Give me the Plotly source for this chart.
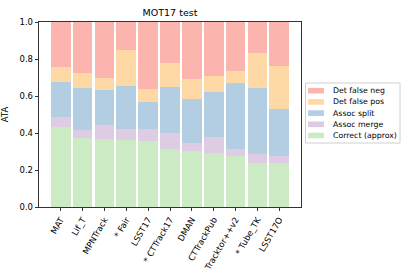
import plotly.graph_objects as go

trackers = ["MAT", "Lif_T", "MPNTrack", "* Fair", "LSST17", "* CTTrack17",
            "DMAN", "CTTrackPub", "Tracktor++v2", "* Tube_TK", "LSST17O"]
correct = [0.433, 0.373, 0.368, 0.362, 0.357, 0.315, 0.303, 0.290, 0.275, 0.237, 0.237]
assoc_merge = [0.056, 0.042, 0.074, 0.058, 0.063, 0.084, 0.043, 0.089, 0.037, 0.049, 0.040]
assoc_split = [0.189, 0.230, 0.192, 0.232, 0.145, 0.251, 0.239, 0.241, 0.356, 0.355, 0.254]
det_fp = [0.081, 0.078, 0.065, 0.194, 0.073, 0.131, 0.109, 0.090, 0.068, 0.189, 0.233]
det_fn = [0.241, 0.277, 0.301, 0.154, 0.362, 0.219, 0.306, 0.290, 0.264, 0.170, 0.236]
yticks = [0.0, 0.2, 0.4, 0.6, 0.8, 1.0]

series = [
    ("Correct (approx)", correct, "#ccebc5"),
    ("Assoc merge", assoc_merge, "#decbe4"),
    ("Assoc split", assoc_split, "#b3cde3"),
    ("Det false pos", det_fp, "#fed9a6"),
    ("Det false neg", det_fn, "#fbb4ae"),
]

W, H = 409, 273
L, R, T, B = 39, 301, 22, 207


def px(xp):
    return (xp - L) / (R - L)


def py(yp):
    return (B - yp) / (B - T)


x = list(range(len(trackers)))
fig = go.Figure()
for name, vals, col in series:
    fig.add_trace(go.Bar(x=x, y=vals, name=name, showlegend=False,
                         marker=dict(color=col, line=dict(width=0))))

font = "DejaVu Sans, sans-serif"

# legend drawn manually (matplotlib-style compact legend)
shapes = [dict(type="rect", xref="paper", yref="paper",
               x0=px(305.5), x1=px(400), y0=py(143), y1=py(83),
               line=dict(color="#d0d0d0", width=1), fillcolor="white", layer="above")]
annotations = []
for i, (name, vals, col) in enumerate(reversed(series)):
    yc = 90.7 + 11.2 * i
    shapes.append(dict(type="rect", xref="paper", yref="paper",
                       x0=px(308), x1=px(324), y0=py(yc + 2.8), y1=py(yc - 2.8),
                       line=dict(width=0), fillcolor=col, layer="above"))
    annotations.append(dict(text=name, xref="paper", yref="paper", x=px(330.5), y=py(yc),
                            xanchor="left", yanchor="middle", showarrow=False,
                            font=dict(size=7.8, family=font, color="black")))

fig.update_layout(
    barmode="stack",
    bargap=0.1,
    width=W, height=H,
    margin=dict(l=L, r=W - R, t=T, b=H - B),
    paper_bgcolor="white", plot_bgcolor="white",
    font=dict(family=font, size=8.5, color="black"),
    title=dict(text="MOT17 test", x=(L + R) / 2 / W, xanchor="center", y=1 - 13 / H,
               yanchor="middle", font=dict(size=9.5, family=font, color="black")),
    showlegend=False,
    shapes=shapes,
    annotations=annotations,
)
fig.update_xaxes(range=[-0.995, 10.995], tickmode="array", tickvals=x, ticktext=trackers,
                 tickangle=-60, ticks="outside", ticklen=3.5, tickwidth=0.8, tickcolor="black",
                 showline=True, linecolor="black", linewidth=0.8, mirror=True, automargin=False,
                 showgrid=False, zeroline=False, tickfont=dict(size=8.5))
fig.update_yaxes(range=[0, 1], tickmode="array", tickvals=yticks,
                 ticktext=[f"{v:.1f}" for v in yticks],
                 ticks="outside", ticklen=3.5, tickwidth=0.8, tickcolor="black",
                 showline=True, linecolor="black", linewidth=0.8, mirror=True, automargin=False,
                 showgrid=False, zeroline=False, tickfont=dict(size=8.5),
                 title=dict(text="ATA", font=dict(size=8.5), standoff=9))
fig.write_html("out.html", config={"displayModeBar": False, "staticPlot": True},
               post_script="document.body.style.margin='0';document.body.style.padding='0';")
